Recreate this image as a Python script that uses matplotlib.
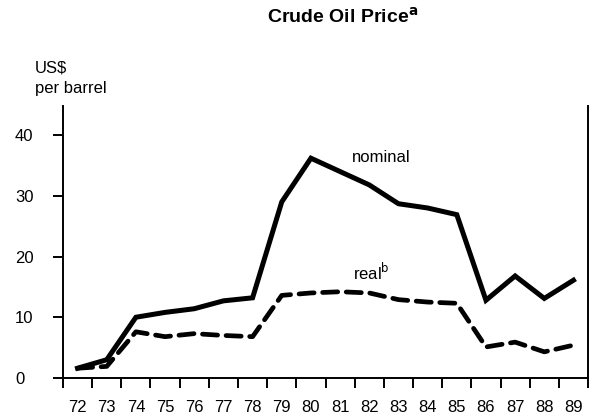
import matplotlib.pyplot as plt
from matplotlib.ticker import MultipleLocator, FixedLocator

plt.rcParams['font.family'] = ['Liberation Sans', 'DejaVu Sans']

# crude oil price, US$ per barrel
years = [72, 73, 74, 75, 76, 77, 78, 79, 80, 81, 82, 83, 84, 85, 86, 87, 88, 89]
nominal = [1.6, 3.0, 10.0, 10.8, 11.4, 12.7, 13.2, 29.0, 36.2, 34.0, 31.8, 28.7, 28.0, 26.9,
           12.8, 16.8, 13.1, 16.1]
real = [1.6, 1.9, 7.6, 6.8, 7.3, 7.0, 6.8, 13.6, 14.0, 14.2, 14.0, 12.9, 12.5, 12.3,
        5.1, 5.9, 4.3, 5.4]
year_labels = [str(y) for y in years]

fig = plt.figure(figsize=(5.94, 4.19), dpi=100)
ax = fig.add_axes([0.106, 0.098, 0.884, 0.649])

x = [y + 0.5 for y in years]
ax.plot(x, nominal, color='black', lw=3.6, solid_joinstyle='miter')
ax.plot(x, real, color='black', lw=3.4, dashes=(3.2, 1.8), dash_capstyle='round')

ax.set_xlim(72, 90)
ax.set_ylim(0, 44.8)

ax.spines['top'].set_visible(False)
for s in ['left', 'right', 'bottom']:
    ax.spines[s].set_linewidth(1.4)

ax.yaxis.set_major_locator(FixedLocator([0, 10, 20, 30, 40]))
ax.tick_params(axis='y', direction='out', length=7.5, width=1.4, labelsize=12, pad=27)
for t in ax.get_yticklabels():
    t.set_horizontalalignment('left')

ax.xaxis.set_major_locator(MultipleLocator(1))
ax.xaxis.set_minor_locator(FixedLocator(x))
ax.xaxis.set_minor_formatter(plt.FixedFormatter(year_labels))
ax.tick_params(axis='x', which='major', direction='out', length=7.5, width=1.4, labelbottom=False)
ax.tick_params(axis='x', which='minor', length=0, labelsize=12, pad=16)

ax.text(81.9, 35.6, 'nominal', fontsize=12)
ax.text(81.95, 16.1, 'real$^{\\rm b}$', fontsize=12)

fig.text(0.576, 0.947, 'Crude Oil Price$^{\\bf a}$', ha='center', va='baseline',
         fontsize=14, fontweight='bold')
fig.text(0.059, 0.828, 'US$', ha='left', va='baseline', fontsize=12)
fig.text(0.059, 0.778, 'per barrel', ha='left', va='baseline', fontsize=12)

fig.savefig('out.png', dpi=100)
